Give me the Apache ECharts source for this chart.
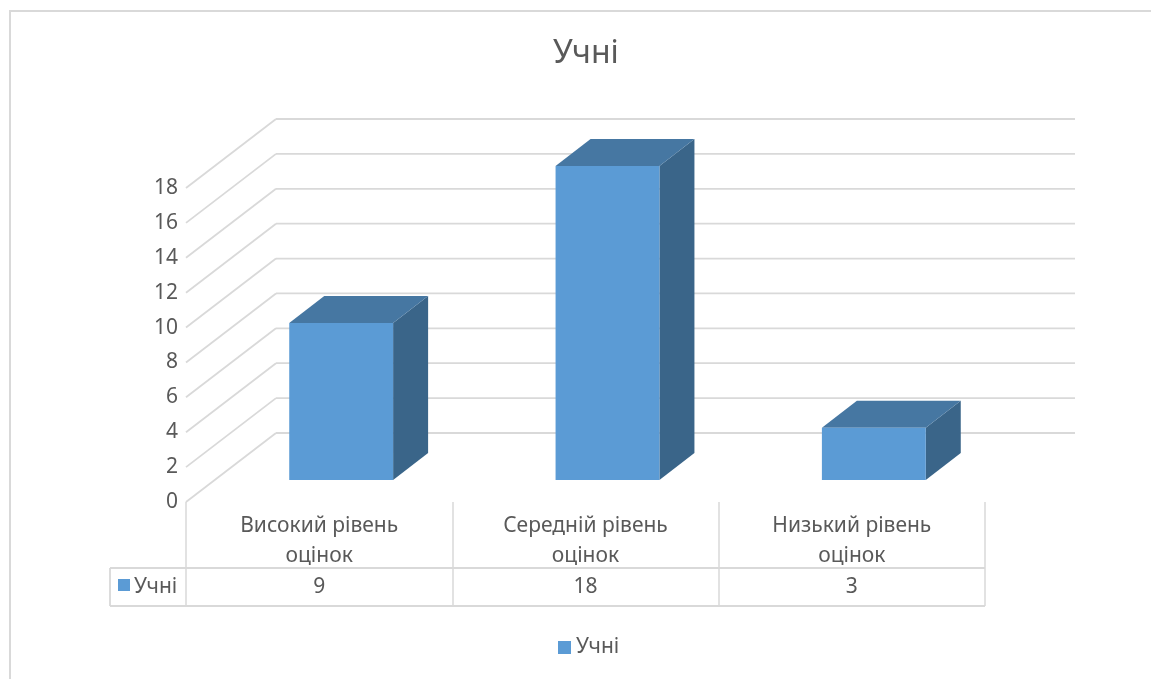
<!DOCTYPE html>
<html>
<head>
<meta charset="utf-8">
<script src="https://cdn.jsdelivr.net/npm/echarts@6/dist/echarts.min.js"></script>
<style>
html, body { margin: 0; padding: 0; background: #fff; }
#chart { width: 1151px; height: 679px; }
</style>
</head>
<body>
<div id="chart"></div>
<script>
const categories = ['Високий рівень оцінок', 'Середній рівень оцінок', 'Низький рівень оцінок']
const pupils = [9, 18, 3]
const yTicks = [0, 2, 4, 6, 8, 10, 12, 14, 16, 18]
const seriesName = 'Учні'

const font = "'Noto Sans', sans-serif"
const textColor = '#595959'
const lineColor = '#d9d9d9'
// fake 3d: depth of the walls and of the bars
const wallDx = 90, wallDy = -69
const barShiftX = 22, barShiftY = -22
const barDx = 35, barDy = -27

const chart = echarts.init(document.getElementById('chart'))

function bandEdges(api) {
  const w = api.size([1, 0])[0]
  const first = api.coord([0, 0])
  const last = api.coord([categories.length - 1, 0])
  return { left: first[0] - w / 2, right: last[0] + w / 2, base: first[1], w: w }
}

chart.setOption({
  animation: false,
  title: {
    text: seriesName,
    left: 553,
    top: 38,
    padding: 0,
    textStyle: { fontFamily: font, fontSize: 32, fontWeight: 'normal', color: textColor }
  },
  legend: {
    data: [seriesName],
    left: 558,
    top: 637,
    icon: 'rect',
    itemWidth: 13,
    itemHeight: 13,
    itemGap: 6,
    padding: 0,
    textStyle: { fontFamily: font, fontSize: 21, color: textColor }
  },
  graphic: [
    {
      type: 'rect',
      silent: true,
      shape: { x: 10, y: 11, width: 1200, height: 720 },
      style: { fill: 'none', stroke: lineColor, lineWidth: 2 }
    }
  ],
  grid: { left: 186, right: 166, top: 188, bottom: 177 },
  xAxis: {
    type: 'category',
    data: categories,
    axisLine: { show: false },
    axisTick: { show: true, length: 104, lineStyle: { color: lineColor, width: 1.5 } },
    axisLabel: {
      interval: 0,
      lineHeight: 30,
      margin: 9,
      fontFamily: font,
      fontSize: 21,
      color: textColor,
      formatter: function (v) {
        const k = v.lastIndexOf(' ')
        return v.slice(0, k) + '\n' + v.slice(k + 1)
      }
    }
  },
  yAxis: {
    type: 'value',
    min: 0,
    max: 18,
    interval: 2,
    axisLine: { show: false },
    axisTick: { show: false },
    splitLine: { show: false },
    axisLabel: { margin: 8, fontFamily: font, fontSize: 21, color: textColor }
  },
  series: [
    {
      // side + back walls
      type: 'custom',
      name: 'walls',
      silent: true,
      data: yTicks.map(v => [0, v]),
      renderItem: function (params, api) {
        const e = bandEdges(api)
        const y = api.coord([0, api.value(1)])[1]
        const style = { stroke: lineColor, lineWidth: 1.8 }
        return {
          type: 'group',
          children: [
            { type: 'line', shape: { x1: e.left, y1: y, x2: e.left + wallDx, y2: y + wallDy }, style: style },
            { type: 'line', shape: { x1: e.left + wallDx, y1: y + wallDy, x2: e.right + wallDx, y2: y + wallDy }, style: style }
          ]
        }
      }
    },
    {
      // data table frame under the axis
      type: 'custom',
      name: 'table',
      silent: true,
      data: [[0, 0]],
      renderItem: function (params, api) {
        const e = bandEdges(api)
        const style = { stroke: lineColor, lineWidth: 1.8 }
        const x0 = e.left - 76
        const y1 = e.base + 66, y2 = e.base + 104
        return {
          type: 'group',
          children: [
            { type: 'line', shape: { x1: x0, y1: y1, x2: e.right, y2: y1 }, style: style },
            { type: 'line', shape: { x1: x0, y1: y2, x2: e.right, y2: y2 }, style: style },
            { type: 'line', shape: { x1: x0, y1: y1, x2: x0, y2: y2 }, style: style },
            { type: 'rect', shape: { x: e.left - 68, y: e.base + 77, width: 12, height: 12 }, style: { fill: '#5b9bd5' } },
            {
              type: 'text',
              x: e.left - 52,
              y: e.base + 85,
              style: { text: seriesName, fontFamily: font, fontSize: 21, fill: textColor, verticalAlign: 'middle' }
            }
          ]
        }
      }
    },
    {
      type: 'custom',
      name: seriesName,
      itemStyle: { color: '#5b9bd5' },
      data: pupils.map((v, i) => [i, v]),
      renderItem: function (params, api) {
        const i = api.value(0)
        const v = api.value(1)
        const base = api.coord([i, 0])
        const top = api.coord([i, v])
        const w = api.size([1, 0])[0] * 0.39
        const x0 = base[0] - w / 2 + barShiftX
        const x1 = x0 + w
        const yb = base[1] + barShiftY
        const yt = top[1] + barShiftY
        return {
          type: 'group',
          children: [
            {
              type: 'polygon',
              shape: { points: [[x1, yt], [x1 + barDx, yt + barDy], [x1 + barDx, yb + barDy], [x1, yb]] },
              style: { fill: '#3a6589' }
            },
            {
              type: 'polygon',
              shape: { points: [[x0, yt], [x1, yt], [x1 + barDx, yt + barDy], [x0 + barDx, yt + barDy]] },
              style: { fill: '#4677a2' }
            },
            {
              type: 'rect',
              shape: { x: x0, y: yt, width: w, height: yb - yt },
              style: { fill: '#5b9bd5' }
            },
            {
              type: 'text',
              x: base[0],
              y: base[1] + 85,
              style: {
                text: String(v),
                fontFamily: font,
                fontSize: 21,
                fill: textColor,
                align: 'center',
                verticalAlign: 'middle'
              }
            }
          ]
        }
      }
    }
  ]
})
</script>
</body>
</html>
